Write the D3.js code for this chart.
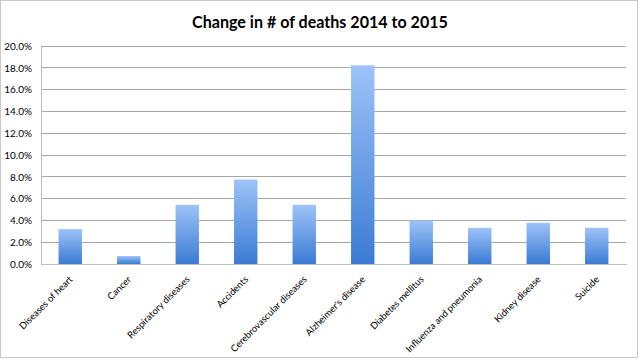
<!DOCTYPE html>
<html><head><meta charset="utf-8">
<script src="https://cdn.jsdelivr.net/npm/d3@7"></script>
<style>body{margin:0;background:#fff}svg{display:block}</style>
</head><body>
<svg id="c" width="640" height="360"></svg>
<script>
const categories = ["Diseases of heart","Cancer","Respiratory diseases","Accidents","Cerebrovascular diseases","Alzheimer's disease","Diabetes mellitus","Influenza and pneumonia","Kidney disease","Suicide"];
const values = [0.032,0.0073,0.0543,0.0775,0.0543,0.1823,0.040,0.0332,0.0378,0.0332];
const yTicks = [0,0.02,0.04,0.06,0.08,0.10,0.12,0.14,0.16,0.18,0.20];
const title = "Change in # of deaths 2014 to 2015";

const svg = d3.select("#c");
const font = "Lato, 'Open Sans', sans-serif";
svg.append("rect").attr("x",0.5).attr("y",0.5).attr("width",637).attr("height",357)
  .attr("fill","#fff").attr("stroke","#c8c8c8");

const m = {left:41, right:626, top:46, bottom:264};
const x = d3.scaleBand().domain(categories).range([m.left,m.right]).paddingInner(0.6).paddingOuter(0.3);
const y = d3.scaleLinear().domain([0,0.2]).range([m.bottom,m.top]);

const defs = svg.append("defs");
const g = defs.append("linearGradient").attr("id","bg").attr("x1",0).attr("y1",0).attr("x2",0).attr("y2",1);
g.append("stop").attr("offset","0%").attr("stop-color","#9dc3f8");
g.append("stop").attr("offset","100%").attr("stop-color","#3a7bd4");

// gridlines
svg.append("g").selectAll("line").data(yTicks.filter(d=>d>0)).join("line")
  .attr("x1",m.left).attr("x2",m.right).attr("y1",d=>y(d)).attr("y2",d=>y(d))
  .attr("stroke","#a6a6a6").attr("stroke-width",1).attr("shape-rendering","crispEdges");

// y axis
const yAxis = d3.axisLeft(y).tickValues(yTicks).tickFormat(d3.format(".1%")).tickSize(0).tickPadding(9);
const ya = svg.append("g").attr("transform",`translate(${m.left},0)`).call(yAxis);
ya.select(".domain").attr("stroke","#bdbdbd").attr("shape-rendering","crispEdges");
ya.selectAll("text").attr("font-family",font).attr("font-size",10).attr("fill","#000");

// bars
svg.append("g").selectAll("rect").data(values).join("rect")
  .attr("x",(d,i)=>x(categories[i])).attr("width",x.bandwidth())
  .attr("y",d=>y(d)).attr("height",d=>y(0)-y(d)).attr("fill","url(#bg)");

// x axis
const xAxis = d3.axisBottom(x).tickSize(0).tickPadding(0);
const xa = svg.append("g").attr("transform",`translate(0,${m.bottom})`).call(xAxis);
xa.select(".domain").attr("stroke","#bdbdbd").attr("stroke-width",1.5).attr("shape-rendering","crispEdges");
const xt = xa.selectAll("text").attr("font-family",font).attr("font-size",10).attr("fill","#000")
  .attr("text-anchor","end").attr("dy",0).attr("y",0)
  .attr("transform","translate(3,16) rotate(-45)");
const ref = xt.filter(d=>d==="Cerebrovascular diseases").node().getComputedTextLength();
xt.attr("font-size",10*103/ref);

// title
const t = svg.append("text").attr("x",320).attr("y",28).attr("text-anchor","middle")
  .attr("font-family",font).attr("font-weight","bold").attr("font-size",16).text(title);
const w = t.node().getComputedTextLength();
t.attr("font-size",16*256/w);
</script>
</body></html>
